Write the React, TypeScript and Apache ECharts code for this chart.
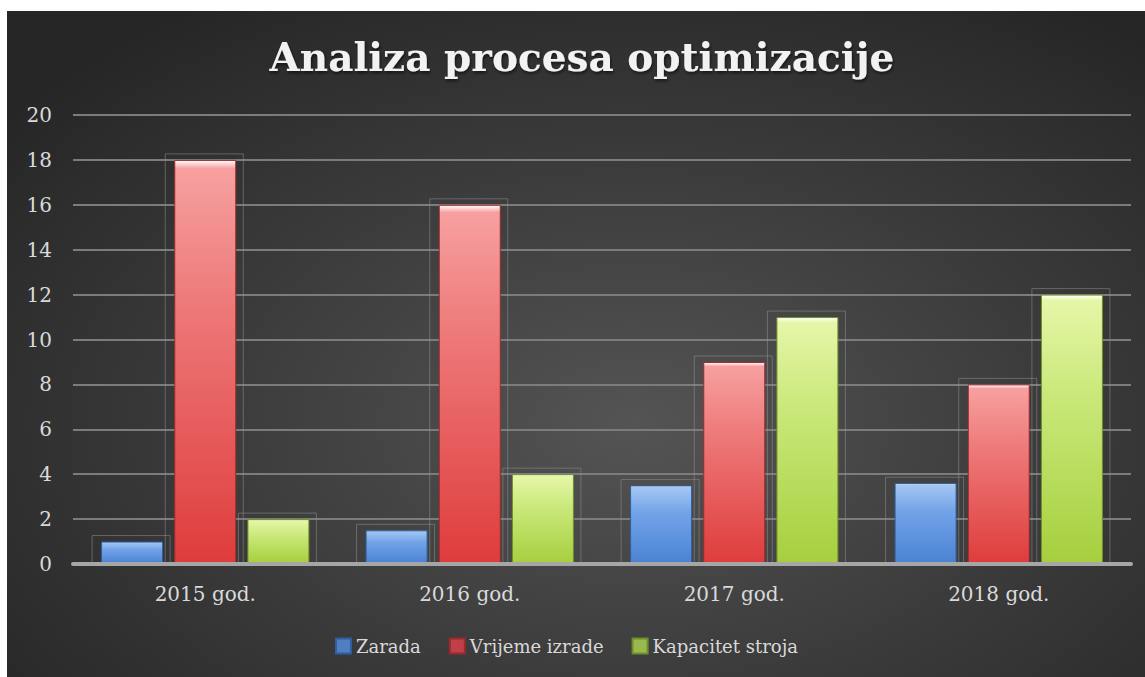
import React, { useEffect, useRef } from 'react';
import * as echarts from 'echarts';

const categories = ['2015 god.', '2016 god.', '2017 god.', '2018 god.'];
const seriesNames = ['Zarada', 'Vrijeme izrade', 'Kapacitet stroja'];
const zarada = [1, 1.5, 3.5, 3.6];
const vrijemeIzrade = [18, 16, 9, 8];
const kapacitetStroja = [2, 4, 11, 12];
const yTicks = { min: 0, max: 20, interval: 2 };
const titleText = 'Analiza procesa optimizacije';

const FONT = 'DejaVu Serif';
const BAR_W = 62;
const BAR_GAP = 0.18;

function grad(top: string, mid: string, bottom: string) {
  return new echarts.graphic.LinearGradient(0, 0, 0, 1, [
    { offset: 0, color: '#ffffff' },
    { offset: 0.02, color: top },
    { offset: 0.35, color: mid },
    { offset: 1, color: bottom },
  ]);
}

const styles = [
  { fill: grad('#a3c6f3', '#72a3e8', '#4a82d3'), border: '#2f5f9f', icon: '#4f7fc0' },
  { fill: grad('#f7a0a0', '#ee7a7a', '#df3c3c'), border: '#9a2b2b', icon: '#c0404a' },
  { fill: grad('#e6f6a8', '#cbe97c', '#a6cf3e'), border: '#6f8f2a', icon: '#9ab850' },
];

export default function App() {
  const ref = useRef<HTMLDivElement>(null);
  useEffect(() => {
    document.body.style.margin = '0';
    const chart = echarts.init(ref.current!, null, { renderer: 'svg' });
    const data = [zarada, vrijemeIzrade, kapacitetStroja];
    const step = BAR_W * (1 + BAR_GAP);
    const frameSeries = data.map((vals, si) => ({
      type: 'custom',
      name: seriesNames[si] + ' frame',
      z: 1,
      silent: true,
      data: vals.map((v, ci) => [ci, v]),
      renderItem: (params: any, api: any) => {
        const top = api.coord([api.value(0), api.value(1)]);
        const base = api.coord([api.value(0), 0]);
        const cx = top[0] + (si - 1) * step;
        const x0 = cx - BAR_W / 2 - 9;
        const y0 = top[1] - 6;
        return {
          type: 'rect',
          shape: { x: x0, y: y0, width: BAR_W + 16, height: base[1] - y0 },
          style: { fill: 'none', stroke: 'rgba(150,150,150,0.5)', lineWidth: 1 },
        };
      },
    }));
    chart.setOption({
      animation: false,
      title: {
        text: titleText,
        left: 570,
        textAlign: 'center',
        top: 21,
        textStyle: {
          fontFamily: FONT,
          fontWeight: 'bold',
          fontSize: 39,
          color: '#f2f2f2',
          textShadowColor: 'rgba(0,0,0,0.6)',
          textShadowBlur: 3,
          textShadowOffsetX: 1,
          textShadowOffsetY: 2,
        },
      },
      legend: {
        left: 328,
        top: 626,
        padding: 0,
        itemWidth: 15,
        itemHeight: 15,
        itemGap: 28,
        icon: 'rect',
        textStyle: { fontFamily: FONT, fontSize: 18, color: '#d9d9d9' },
        data: seriesNames.map((n, i) => ({ name: n, itemStyle: { color: styles[i].icon } })),
      },
      grid: { left: 66, right: 14, top: 104, bottom: 113, containLabel: false },
      xAxis: {
        type: 'category',
        data: categories,
        axisLine: { show: true, lineStyle: { color: '#a6a6a6', width: 4 } },
        axisTick: { show: false },
        axisLabel: { fontFamily: FONT, fontSize: 20, color: '#d9d9d9', margin: 20 },
        z: 5,
      },
      yAxis: {
        type: 'value',
        min: yTicks.min,
        max: yTicks.max,
        interval: yTicks.interval,
        axisLine: { show: false },
        axisTick: { show: false },
        axisLabel: { fontFamily: FONT, fontSize: 20, color: '#d9d9d9', margin: 21 },
        splitLine: { lineStyle: { color: '#7c7c7c', width: 2 } },
      },
      series: [
        ...frameSeries,
        ...seriesNames.map((n, i) => ({
          name: n,
          type: 'bar',
          data: data[i],
          barWidth: BAR_W,
          barGap: BAR_GAP * 100 + '%',
          z: 3,
          itemStyle: { color: styles[i].fill, borderColor: styles[i].border, borderWidth: 1 },
        })),
      ],
    });
    return () => chart.dispose();
  }, []);
  return (
    <div style={{ position: 'relative', width: 1145, height: 677, background: '#fff' }}>
      <div
        ref={ref}
        style={{
          position: 'absolute',
          left: 7,
          top: 11,
          width: 1138,
          height: 666,
          background: 'radial-gradient(ellipse 70% 75% at 55% 62%, #545454 0%, #3a3a3a 55%, #262626 100%)',
        }}
      />
    </div>
  );
}
